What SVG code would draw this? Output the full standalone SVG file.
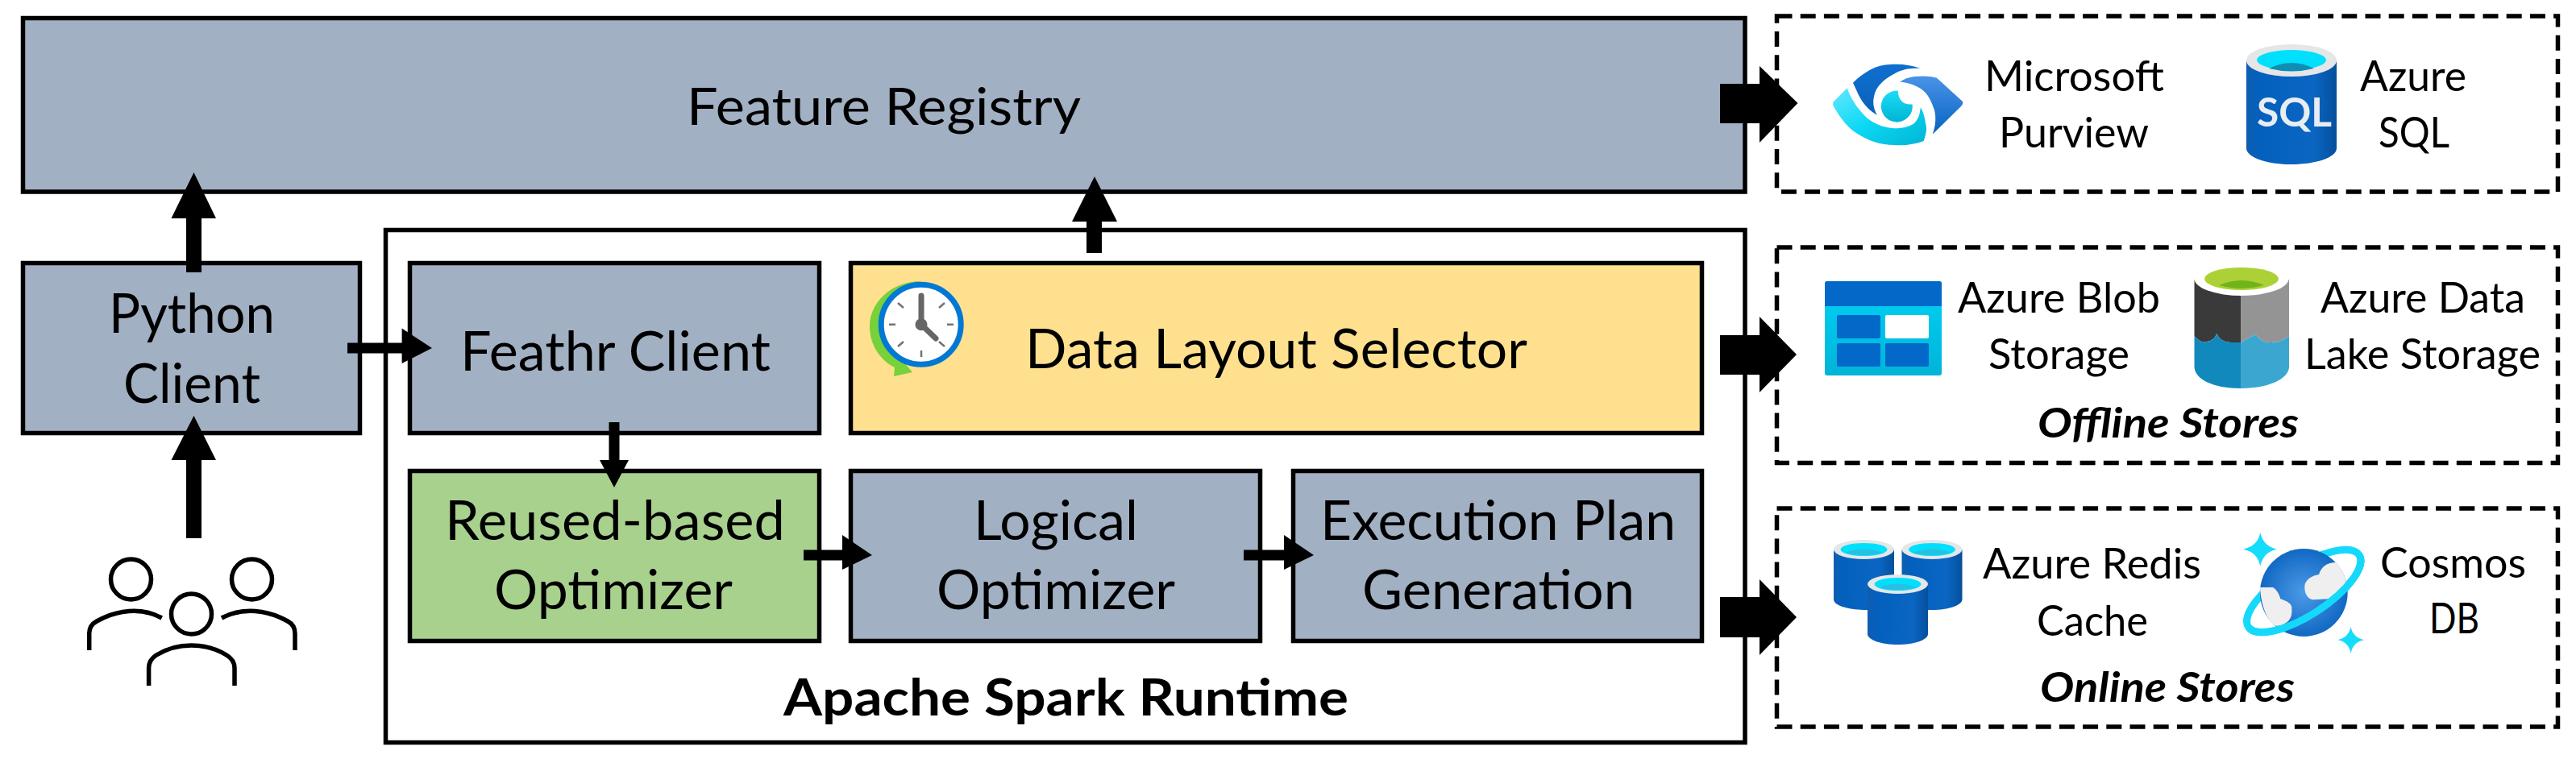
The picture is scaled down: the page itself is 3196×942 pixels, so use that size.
<svg xmlns="http://www.w3.org/2000/svg" width="3196" height="942" viewBox="0 0 3196 942">
<style>
text{font-family:Lato,"Open Sans","Liberation Sans",sans-serif;fill:#000}
.b{stroke:#000;stroke-width:5.5}
.g{fill:#a2b0c3}.y{fill:#ffe08e}.n{fill:#a9d18e}.w{fill:#fff}
.d{fill:#fff;stroke:#000;stroke-width:5.5;stroke-dasharray:19 10.2}
.t1{font-size:64px}.t2{font-size:68px}.t3{font-size:52px}
.bi{font-size:52px;font-weight:700;font-style:italic}
.bold{font-size:63px;font-weight:700}
.u{fill:none;stroke:#000;stroke-width:5.5}
.rim{fill:#e4e6e8}.cy{fill:#00e0fc}
.ring{fill:none;stroke:#14d9fa;stroke-width:9}
</style>
<defs>
<linearGradient id="cyl" x1="0" x2="1" y1="0" y2="0"><stop offset="0" stop-color="#0d5eb0"/><stop offset=".15" stop-color="#0460bd"/><stop offset=".75" stop-color="#0a66c2"/><stop offset="1" stop-color="#054f9c"/></linearGradient>
<linearGradient id="blobg" x1="0" x2="0" y1="0" y2="1"><stop offset="0" stop-color="#00d2f7"/><stop offset="1" stop-color="#00b4d8"/></linearGradient>
<linearGradient id="pvc" x1="0" x2="1" y1="0" y2="1"><stop offset="0" stop-color="#62e8ff"/><stop offset=".5" stop-color="#0cd8f4"/><stop offset="1" stop-color="#00b4d4"/></linearGradient>
<linearGradient id="pvp" x1="0" x2="0" y1="0" y2="1"><stop offset="0" stop-color="#1bdcf7"/><stop offset="1" stop-color="#00b4d4"/></linearGradient>
<linearGradient id="pvb" x1="0" x2="0" y1="0" y2="1"><stop offset="0" stop-color="#4a93e8"/><stop offset="1" stop-color="#0664c0"/></linearGradient>
<linearGradient id="pva" x1="0" x2="0" y1="0" y2="1"><stop offset="0" stop-color="#0f6fd0"/><stop offset="1" stop-color="#0a62b8"/></linearGradient>
<radialGradient id="globe" cx=".5" cy=".5" r=".55"><stop offset="0" stop-color="#4d9ae8"/><stop offset="1" stop-color="#0b64bf"/></radialGradient>
<g id="redis">
<path fill="url(#cyl)" d="M0,12V74C0,81 17,87 37.500,87S75,81 75,74V12Z"/>
<ellipse class="rim" cx="37.500" cy="12" rx="37.500" ry="12"/>
<ellipse class="cy" cx="37.500" cy="12" rx="29" ry="8"/>
<path fill="#28bfe0" d="M14,16Q37,7 61,16Q37,22 14,16Z"/>
</g>
</defs>
<rect width="3196" height="942" fill="#fff"/>

<g id="feature-registry"><rect class="b g" x="28.500" y="22.500" width="2136.500" height="215.500"/><text class="t1" x="852" y="155" textLength="489" lengthAdjust="spacingAndGlyphs">Feature Registry</text></g>
<g id="python-client"><rect class="b g" x="28.500" y="326.500" width="418" height="211"/><text class="t2" x="135" y="413" textLength="206" lengthAdjust="spacingAndGlyphs">Python</text><text class="t2" x="153" y="500" textLength="170" lengthAdjust="spacingAndGlyphs">Client</text></g>
<g id="spark-runtime"><rect class="b w" x="478.500" y="285.500" width="1686.500" height="636"/><text class="bold" x="972" y="888" textLength="701" lengthAdjust="spacingAndGlyphs">Apache Spark Runtime</text></g>
<g id="feathr-client"><rect class="b g" x="508.500" y="326.500" width="508" height="211"/><text class="t2" x="571" y="460" textLength="385" lengthAdjust="spacingAndGlyphs">Feathr Client</text></g>
<g id="data-layout-selector"><rect class="b y" x="1055.500" y="326.500" width="1056" height="211"/><text class="t2" x="1272" y="457" textLength="623" lengthAdjust="spacingAndGlyphs">Data Layout Selector</text>
<path fill="#76d13a" d="M1143,349C1105,349 1079,376 1079,405C1079,428 1092,447 1110,456L1109,467L1132,462L1117,444C1100,432 1095,415 1097,400C1100,375 1120,355 1143,349Z"/>
<circle cx="1142.700" cy="402.700" r="49.500" fill="#fff" stroke="#0078d4" stroke-width="7"/>
<path fill="none" stroke="#737373" stroke-width="2.500" d="M1103,402.700h8M1175,402.700h8M1143,435v8M1114,376l7,6M1172,376l-7,6M1114,430l7,-6M1172,430l-7,-6"/>
<path fill="none" stroke="#666" stroke-width="7" stroke-linecap="round" d="M1143,367V402.700L1161,420"/><circle cx="1143" cy="402.700" r="7.500" fill="#666"/></g>
<g id="reuse-optimizer"><rect class="b n" x="508.500" y="584.500" width="508" height="211"/><text class="t2" x="552" y="670" textLength="422" lengthAdjust="spacingAndGlyphs">Reused-based</text><text class="t2" x="613" y="756" textLength="296" lengthAdjust="spacingAndGlyphs">Optimizer</text></g>
<g id="logical-optimizer"><rect class="b g" x="1055.500" y="584.500" width="508" height="211"/><text class="t2" x="1208" y="670" textLength="204" lengthAdjust="spacingAndGlyphs">Logical</text><text class="t2" x="1162" y="756" textLength="296" lengthAdjust="spacingAndGlyphs">Optimizer</text></g>
<g id="execution-plan"><rect class="b g" x="1604.500" y="584.500" width="507" height="211"/><text class="t2" x="1638" y="670" textLength="441" lengthAdjust="spacingAndGlyphs">Execution Plan</text><text class="t2" x="1690" y="756" textLength="338" lengthAdjust="spacingAndGlyphs">Generation</text></g>

<g id="users">
<circle class="u" cx="162.500" cy="719" r="25"/><circle class="u" cx="312.500" cy="719" r="25"/><circle class="u" cx="237.500" cy="762" r="25"/>
<path class="u" d="M110.700,807V786Q110.700,776 120,771C145,757 175,753 200.700,767"/>
<path class="u" d="M366,807V786Q366,776 357,771C332,757 302,753 275,767"/>
<path class="u" d="M184.600,851V829Q184.600,819 194,813C220,797 255,797 281,813Q291,819 291,829V851"/>
</g>

<g id="registry-stores"><rect class="d" x="2204.500" y="20" width="969" height="218"/>
<path fill="url(#pva)" d="M2299,102.700C2312,90 2328,80 2345,80C2360,79 2372,81 2382.700,85C2368,84 2358,87 2350,91.700C2336,99 2327,108 2325,120C2323,128 2325,136 2329,142.700C2320,138 2312,130 2306,118Z"/>
<path fill="url(#pvb)" d="M2357.300,101.700C2362,98 2368,96 2375,95C2385,94 2395,94 2403,96.700L2435,126Q2436,129 2433,132L2397.700,166.700C2402,155 2402,145 2400,136.700C2396,125 2392,116 2383,110C2375,105 2366,102 2357.300,101.700Z"/>
<path fill="url(#pvc)" d="M2291.700,109.300L2275,126Q2273,129 2275,132C2282,145 2292,158 2303,165C2318,175 2334,180 2350,180C2364,181 2376,179 2386.700,175C2390,165 2391,160 2389,153C2388,145 2386,138 2382.700,133.300C2382,142 2380,148 2375,153C2368,158 2360,159 2350,159.300C2336,158 2326,154 2316.700,146.700C2305,136 2296,122 2291.700,109.300Z"/>
<path fill="url(#pvp)" d="M2354.500,112.500A19.500,19.500 0 1 0 2372.700,129.500Q2356,131 2354.500,112.500Z"/>
<path fill="url(#cyl)" d="M2787,75V184C2787,195 2812,204 2843,204S2899,195 2899,184V75Z"/>
<ellipse class="rim" cx="2843" cy="75" rx="56" ry="20"/><ellipse class="cy" cx="2843" cy="74.500" rx="43" ry="12.500"/><path fill="#0f8eb5" d="M2815,85Q2843,71 2871,85Q2843,92 2815,85Z"/>
<text x="2800" y="157" textLength="93" lengthAdjust="spacingAndGlyphs" style="font-size:49px;font-weight:700;fill:#e8edf2">SQL</text>
<text class="t3" x="2462" y="113" textLength="223" lengthAdjust="spacingAndGlyphs">Microsoft</text><text class="t3" x="2480" y="183" textLength="186" lengthAdjust="spacingAndGlyphs">Purview</text>
<text class="t3" x="2928" y="113" textLength="132" lengthAdjust="spacingAndGlyphs">Azure</text><text class="t3" x="2951" y="183" textLength="88" lengthAdjust="spacingAndGlyphs">SQL</text></g>

<g id="offline-stores"><rect class="d" x="2204.500" y="307" width="969" height="267.500"/>
<rect x="2264" y="349" width="145" height="117" rx="3" fill="url(#blobg)"/><path fill="#0369c9" d="M2264,380V352Q2264,349 2267,349H2406Q2409,349 2409,352V380Z"/>
<rect x="2279" y="391" width="54" height="29" rx="2" fill="#0369c9"/><rect x="2339" y="391" width="54" height="29" rx="2" fill="#fff"/><rect x="2279" y="426" width="54" height="29" rx="2" fill="#0369c9"/><rect x="2339" y="426" width="54" height="29" rx="2" fill="#0369c9"/>
<path fill="#3a3a3a" d="M2722.500,347V417Q2730,426 2738,424Q2748,422 2750,414Q2756,426 2769,425L2780,425V347Z"/>
<path fill="#949494" d="M2780,347V425Q2788,420 2799,415Q2805,426 2818,425Q2830,425 2840,417V347Z"/>
<path fill="#1289bd" d="M2722.500,417Q2730,426 2738,424Q2748,422 2750,414Q2756,426 2769,425L2780,425V482C2745,482 2722.500,470 2722.500,455Z"/>
<path fill="#3ba7d1" d="M2780,425Q2788,420 2799,415Q2805,426 2818,425Q2830,425 2840,417V455C2840,470 2815,482 2780,482Z"/>
<ellipse cx="2781" cy="346" rx="58.500" ry="21" fill="#fff"/><ellipse cx="2781" cy="346" rx="46" ry="14" fill="#acd136"/><path fill="#70b31b" d="M2753,354Q2781,342 2809,354Q2781,362 2753,354Z"/>
<text class="t3" x="2429" y="388" textLength="251" lengthAdjust="spacingAndGlyphs">Azure Blob</text><text class="t3" x="2467" y="458" textLength="175" lengthAdjust="spacingAndGlyphs">Storage</text>
<text class="t3" x="2879" y="388" textLength="254" lengthAdjust="spacingAndGlyphs">Azure Data</text><text class="t3" x="2859" y="458" textLength="293" lengthAdjust="spacingAndGlyphs">Lake Storage</text>
<text class="bi" x="2528" y="543" textLength="324" lengthAdjust="spacingAndGlyphs">Offline Stores</text></g>

<g id="online-stores"><rect class="d" x="2204.500" y="631" width="969" height="271"/>
<use href="#redis" x="2275" y="670"/><use href="#redis" x="2359.500" y="670"/><use href="#redis" x="2317" y="713"/>
<ellipse class="ring" cx="2858.300" cy="733.500" rx="82" ry="30" transform="rotate(-33 2858.300 733.500)"/>
<circle cx="2858.300" cy="735.500" r="54.400" fill="url(#globe)"/>
<path fill="#efefef" d="M2870,744.300C2860,743 2858,730 2860,724C2864,716 2872,714 2877,713C2880,703 2888,698 2898,698Q2908,708 2911.700,725L2890,743.300Z"/>
<path fill="#efefef" d="M2804,729H2820C2825,732 2828,738 2829.300,743.300C2838,746 2844,750 2843.300,755C2844,764 2842,768 2838,771.700C2832,776 2828,777 2823.300,776.700C2812,770 2805,750 2804,729Z"/>
<path class="ring" d="M-82,0A82,30 0 0 0 82,0" transform="translate(2858.300 733.500) rotate(-33)"/>
<path fill="#14dcfb" d="M2804.300,661Q2808,678 2825,681.700Q2808,685 2804.300,702.700Q2801,685 2783,681.700Q2801,678 2804.300,661Z"/>
<path fill="#14dcfb" d="M2916.700,778.300Q2919,791 2933.300,794.300Q2919,797 2916.700,811Q2914,797 2900.700,794.300Q2914,791 2916.700,778.300Z"/>
<text class="t3" x="2460" y="718" textLength="271" lengthAdjust="spacingAndGlyphs">Azure Redis</text><text class="t3" x="2527" y="789" textLength="138" lengthAdjust="spacingAndGlyphs">Cache</text>
<text class="t3" x="2953" y="717" textLength="181" lengthAdjust="spacingAndGlyphs">Cosmos</text><text class="t3" x="3014" y="786" textLength="62" lengthAdjust="spacingAndGlyphs">DB</text>
<text class="bi" x="2531" y="871" textLength="316" lengthAdjust="spacingAndGlyphs">Online Stores</text></g>

<g id="connectors" fill="#000">
<path d="M231,668V571H212.500L240.500,516L268,571H250V668Z"/>
<path d="M231,338V271H212.500L240.500,214L268,271H250V338Z"/>
<path d="M1348,314V275H1330L1358,219L1386,275H1367V314Z"/>
<path d="M431,425.500H498.600V407.500L536,432L498.600,451V438.500H431Z"/>
<path d="M755.500,524V571H744L762,605L780,571H768.500V524Z"/>
<path d="M997,682.500H1045V664L1082,689L1045,707V695.500H997Z"/>
<path d="M1543,682.500H1593V664L1630,689L1593,707V695.500H1543Z"/>
<path d="M2134,104H2183V82L2230.500,128L2183,177V153H2134Z"/>
<path d="M2134,416H2183V393L2229,440L2183,487V465H2134Z"/>
<path d="M2134,741H2183V719L2229,766L2183,813V791H2134Z"/>
</g>
</svg>
